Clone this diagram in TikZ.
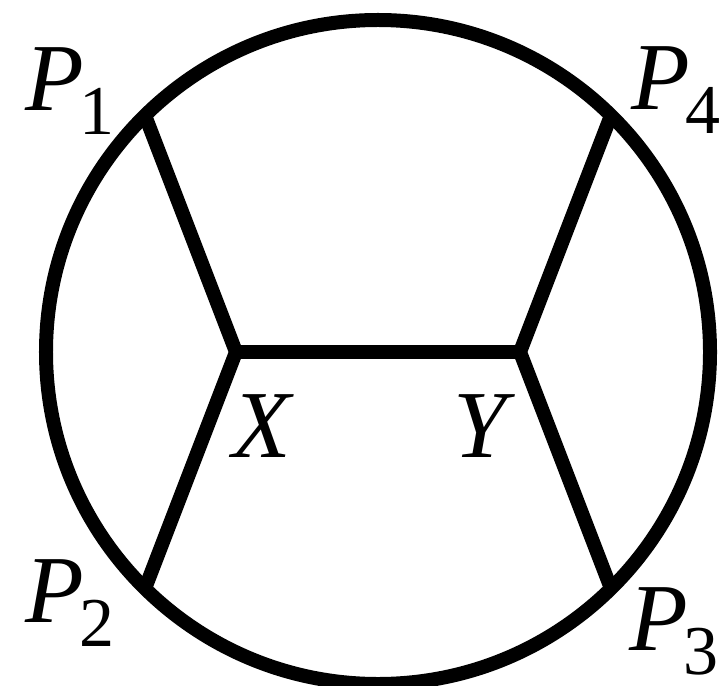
\documentclass[tikz,border=0pt]{standalone}
\usepackage{fontspec}
\setmainfont{Liberation Serif}
\newcommand{\mainsize}{\fontsize{96bp}{96bp}\selectfont}
\newcommand{\pl}[1]{{\mainsize\itshape P}\kern-4bp\raisebox{-24bp}{\fontsize{70bp}{70bp}\selectfont #1}}
\begin{document}
\begin{tikzpicture}[x=1bp,y=-1bp,
  edge/.style={line width=14bp, line join=round, line cap=round},
  lab/.style={anchor=base west, inner sep=0pt, outer sep=0pt}]
\useasboundingbox (0,0) rectangle (721,686);
\coordinate (c) at (378,352);
\draw[line width=14bp] (c) circle[radius=332bp];
\coordinate (p1) at (146,118);
\coordinate (p2) at (146,586);
\coordinate (p3) at (610,586);
\coordinate (p4) at (610,118);
\coordinate (x) at (236,352);
\coordinate (y) at (520,352);
\draw[edge] (p1) -- (x) -- (p2);
\draw[edge] (p4) -- (y) -- (p3);
\draw[edge] (x) -- (y);
\node[lab] (l1) at (25,111) {\pl{1}};
\node[lab] (l2) at (25,622) {\pl{2}};
\node[lab] (l3) at (629,650) {\pl{3}};
\node[lab] (l4) at (631,110) {\pl{4}};
\node[lab] (lx) at (232,457) {\mainsize\itshape X};
\node[lab] (ly) at (453,457) {\mainsize\itshape Y};
\end{tikzpicture}
\end{document}
